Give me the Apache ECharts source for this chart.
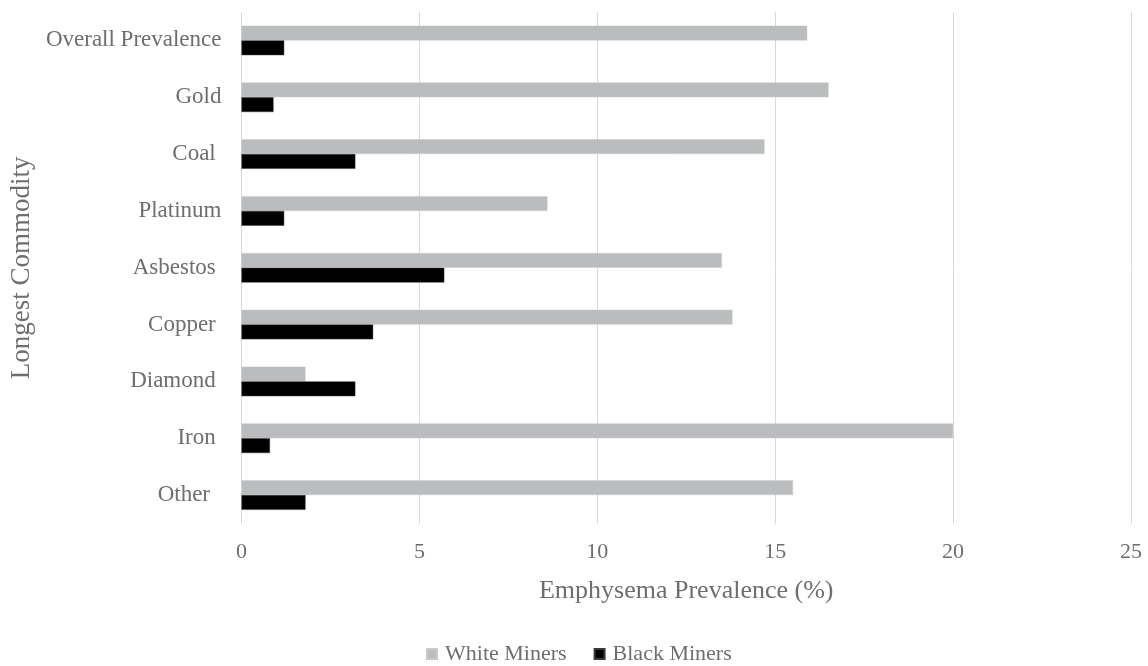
<!DOCTYPE html>
<html>
<head>
<meta charset="utf-8">
<title>Emphysema Prevalence by Longest Commodity</title>
<script src="https://cdn.jsdelivr.net/npm/echarts@6/dist/echarts.min.js"></script>
<style>
  html, body { margin: 0; padding: 0; background: #ffffff; }
  #chart { width: 1148px; height: 666px; }
</style>
</head>
<body>
<div id="chart"></div>
<script>
// Commodities, top to bottom (trailing spaces kept as typed in the source labels)
const commodities = ['Overall Prevalence', 'Gold', 'Coal ', 'Platinum', 'Asbestos ', 'Copper ', 'Diamond ', 'Iron ', 'Other  '];
// Emphysema prevalence (%) per group
const whiteMiners = [15.9, 16.5, 14.7, 8.6, 13.5, 13.8, 1.8, 20.0, 15.5];
const blackMiners = [1.2, 0.9, 3.2, 1.2, 5.7, 3.7, 3.2, 0.8, 1.8];
const seriesNames = ['White Miners', 'Black Miners'];
const xTicks = [0, 5, 10, 15, 20, 25];

const FONT = "'Liberation Serif', 'Times New Roman', serif";
const TEXT = '#6e6e6e';

const chart = echarts.init(document.getElementById('chart'), null, { renderer: 'canvas' });

chart.setOption({
  backgroundColor: '#ffffff',
  animation: false,
  textStyle: { fontFamily: FONT },
  grid: { left: 238.5, right: 17, top: 12, bottom: 142.5, containLabel: false },
  legend: {
    data: seriesNames,
    left: 421,
    top: 638,
    icon: 'rect',
    itemWidth: 10,
    itemHeight: 10,
    itemGap: 27,
    textStyle: { fontFamily: FONT, fontSize: 22, color: TEXT, padding: [0, 0, 0, 3] }
  },
  xAxis: {
    type: 'value',
    min: xTicks[0],
    max: xTicks[xTicks.length - 1],
    interval: xTicks[1] - xTicks[0],
    name: 'Emphysema Prevalence (%)',
    nameLocation: 'middle',
    nameGap: 55,
    nameTextStyle: { fontFamily: FONT, fontSize: 26, color: TEXT },
    axisLine: { show: false },
    axisTick: { show: false },
    axisLabel: { fontFamily: FONT, fontSize: 22, color: TEXT, margin: 18 },
    splitLine: { show: true, lineStyle: { color: '#d9d9d9', width: 1 } }
  },
  yAxis: {
    type: 'category',
    data: commodities,
    inverse: true,
    name: 'Longest Commodity',
    nameLocation: 'middle',
    nameGap: 198,
    nameRotate: 90,
    nameTextStyle: { fontFamily: FONT, fontSize: 27, color: TEXT },
    axisLine: { show: false },
    axisTick: { show: false },
    axisLabel: { fontFamily: FONT, fontSize: 23, color: TEXT, margin: 20 },
    splitLine: { show: false }
  },
  series: [
    {
      name: seriesNames[0],
      type: 'bar',
      data: whiteMiners,
      barGap: '0%',
      barCategoryGap: '48%',
      itemStyle: { color: '#bbbcbe', borderColor: '#c9cacc', borderWidth: 0.5 }
    },
    {
      name: seriesNames[1],
      type: 'bar',
      data: blackMiners,
      barGap: '0%',
      barCategoryGap: '48%',
      itemStyle: { color: '#000000', borderColor: '#3a3a3a', borderWidth: 0.5 }
    }
  ]
});
</script>
</body>
</html>
